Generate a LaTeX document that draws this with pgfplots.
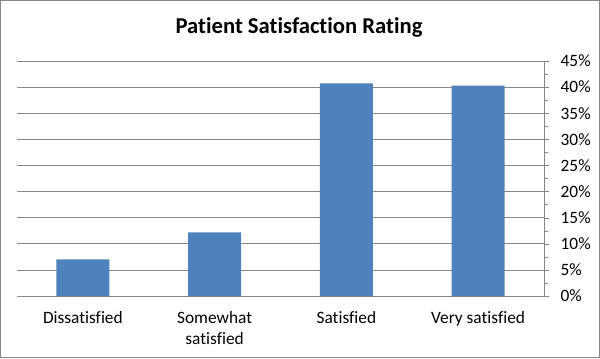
\documentclass[border=0pt]{standalone}
\usepackage{pgfplots}
\pgfplotsset{compat=1.18}
\usepackage{fontspec}
\setmainfont{Carlito}[Ligatures={NoCommon}]
\definecolor{barblue}{HTML}{4F81BD}
\definecolor{gridgray}{HTML}{868686}
\begin{document}
\begin{tikzpicture}[x=0.75pt,y=0.75pt]
\draw[gridgray, line width=0.75pt] (0.5,0.5) rectangle (599.5,357.5);
\node[font=\bfseries\fontsize{17}{20}\selectfont] at (299,331) {Patient Satisfaction Rating};
\begin{axis}[at={(12.75pt,46.5pt)}, anchor=south west, scale only axis,
  width=395.25pt, height=176.25pt,
  xmin=0.5, xmax=4.5, ymin=0, ymax=45,
  axis x line*=bottom, axis y line*=right,
  axis line style={gridgray, -},
  xtick={1,2,3,4},
  xticklabels={Dissatisfied,{Somewhat\\satisfied},Satisfied,Very satisfied},
  x tick style={draw=none},
  xticklabel style={align=center, font=\fontsize{13}{16}\selectfont, yshift=-4pt},
  extra x ticks={0.5,1.5,2.5,3.5,4.5},
  extra x tick labels={},
  extra x tick style={tick style={draw=gridgray}, major tick length=4pt, tick align=outside},
  ytick={0,5,...,45},
  minor y tick num=1,
  yticklabel={\pgfmathprintnumber{\tick}\%},
  y tick label style={font=\fontsize{13}{14}\selectfont, black, xshift=5pt},
  /pgf/number format/assume math mode=true,
  tick align=outside,
  major tick length=4pt, minor tick length=3pt,
  y tick style={gridgray},
  ymajorgrids, grid style={gridgray, line width=0.5pt},
  clip=false,
]
\addplot[ybar, bar width=39.75pt, fill=barblue, draw=none] coordinates {(1,7) (2,12.2) (3,40.7) (4,40.3)};
\end{axis}
\end{tikzpicture}
\end{document}
